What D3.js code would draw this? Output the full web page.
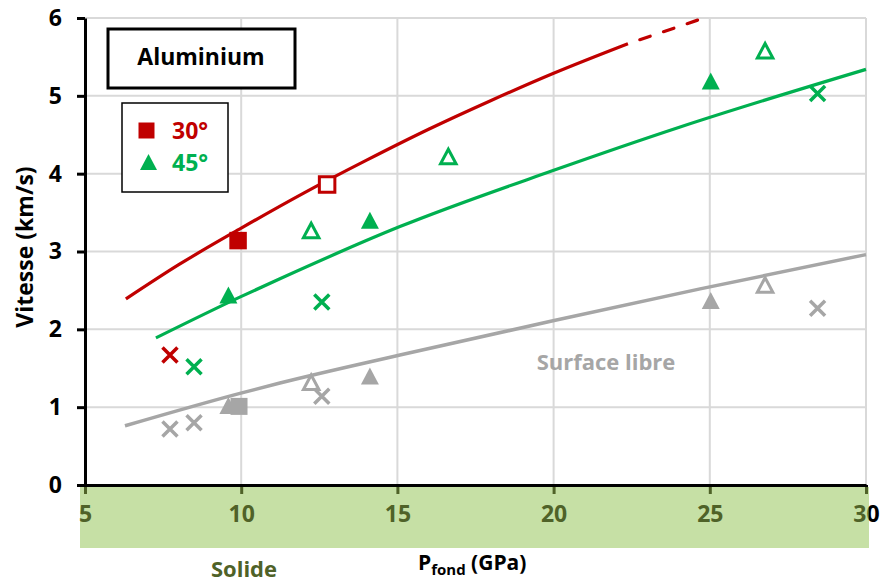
<!DOCTYPE html>
<html>
<head>
<meta charset="utf-8">
<script src="https://cdn.jsdelivr.net/npm/d3@7"></script>
<style>
  body { margin: 0; background: #fff; }
  text { font-family: "Open Sans", sans-serif; font-weight: bold; }
</style>
</head>
<body>
<div id="container"></div>
<script>
/* CONSTANTS AND GLOBALS */
const width = 881;
const height = 583;
const red = "#c00000", green = "#00b050", gray = "#a6a6a6";
const olive = "#4f6228", bandFill = "#c6e0a5";

/* DATA */
const xTicks = [5, 10, 15, 20, 25, 30];
const yTicks = [0, 1, 2, 3, 4, 5, 6];

// fitted curves
const redCurveP = [6.31, 8, 10, 12, 14, 16, 18, 20, 22.38];
const redCurveV = [2.39, 2.83, 3.3, 3.75, 4.17, 4.57, 4.94, 5.29, 5.67];
const redDashP = [22.38, 24.81];
const redDashV = [5.67, 6.0];
const greenCurveP = [7.27, 9.99, 11.24, 15.08, 19.98, 24.05, 30];
const greenCurveV = [1.89, 2.42, 2.65, 3.32, 4.04, 4.60, 5.34];
const grayCurveP = [6.28, 9.99, 11.24, 15.08, 19.98, 24.69, 30];
const grayCurveV = [0.76, 1.18, 1.31, 1.67, 2.11, 2.52, 2.96];

// markers: [P, V]
const red30Full = [[9.90, 3.14]];
const red30Open = [[12.75, 3.86]];
const red30Cross = [[7.72, 1.67]];
const green45Full = [[9.59, 2.44], [14.12, 3.40], [25.03, 5.19]];
const green45Open = [[12.24, 3.27], [16.63, 4.22], [26.77, 5.58]];
const green45Cross = [[8.49, 1.52], [12.58, 2.35], [28.45, 5.03]];
const grayTriFull = [[9.59, 1.02], [14.12, 1.40], [25.03, 2.37]];
const graySqFull = [[9.93, 1.01]];
const grayTriOpen = [[12.24, 1.32], [26.77, 2.57]];
const grayCross = [[7.72, 0.72], [8.49, 0.80], [12.58, 1.14], [28.45, 2.27]];

/* SCALES */
const xScale = d3.scaleLinear().domain([5, 30]).range([85, 866]);
const yScale = d3.scaleLinear().domain([0, 6]).range([485, 18]);

const svg = d3.select("#container")
  .append("svg")
  .attr("width", width)
  .attr("height", height);

// band geometry (green "Solide" strip)
const band = { x: 80, y: 487, w: 789, h: 61 };
svg.append("defs").append("clipPath").attr("id", "bandClip")
  .append("rect")
  .attr("x", band.x).attr("y", band.y)
  .attr("width", band.w).attr("height", band.h);

// grid
svg.append("g").selectAll("line")
  .data(yTicks.filter(d => d > 0))
  .join("line")
  .attr("x1", xScale(5)).attr("x2", xScale(30))
  .attr("y1", d => yScale(d)).attr("y2", d => yScale(d))
  .attr("stroke", "#d9d9d9").attr("stroke-width", 2);
svg.append("g").selectAll("line")
  .data(xTicks.filter(d => d > 5))
  .join("line")
  .attr("x1", d => xScale(d)).attr("x2", d => xScale(d))
  .attr("y1", yScale(0)).attr("y2", yScale(6))
  .attr("stroke", "#d9d9d9").attr("stroke-width", 2);

// curves
const line = d3.line()
  .x(d => xScale(d[0]))
  .y(d => yScale(d[1]))
  .curve(d3.curveMonotoneX);
const zip = (a, b) => a.map((v, i) => [v, b[i]]);

svg.append("path").datum(zip(grayCurveP, grayCurveV))
  .attr("d", line).attr("fill", "none")
  .attr("stroke", gray).attr("stroke-width", 3.5);
svg.append("path").datum(zip(greenCurveP, greenCurveV))
  .attr("d", line).attr("fill", "none")
  .attr("stroke", green).attr("stroke-width", 3.2);
svg.append("path").datum(zip(redCurveP, redCurveV))
  .attr("d", line).attr("fill", "none")
  .attr("stroke", red).attr("stroke-width", 3.2);
svg.append("path").datum(zip(redDashP, redDashV))
  .attr("d", line).attr("fill", "none")
  .attr("stroke", red).attr("stroke-width", 3.2)
  .attr("stroke-linecap", "round")
  .attr("stroke-dasharray", "11,14")
  .attr("stroke-dashoffset", -12.5);

// marker shapes
const triPath = (w, h) => `M0,${-h / 2}L${w / 2},${h / 2}L${-w / 2},${h / 2}Z`;
const sqPath = s => `M${-s / 2},${-s / 2}h${s}v${s}h${-s}Z`;
const crossPath = s => `M${-s},${-s}L${s},${s}M${-s},${s}L${s},${-s}`;

function markers(data, d, fill, stroke, sw) {
  svg.append("g").selectAll("path")
    .data(data)
    .join("path")
    .attr("transform", p => `translate(${xScale(p[0])},${yScale(p[1])})`)
    .attr("d", d)
    .attr("fill", fill)
    .attr("stroke", stroke)
    .attr("stroke-width", sw);
}

markers(grayTriFull, triPath(18, 17), gray, "none", 0);
markers(graySqFull, sqPath(17), gray, "none", 0);
markers(grayTriOpen, triPath(15.5, 14.5), "#fff", gray, 3);
markers(grayCross, crossPath(7.5), "none", gray, 3.5);

markers(green45Full, triPath(18, 17), green, "none", 0);
markers(green45Open, triPath(15.5, 14.5), "#fff", green, 3);
markers(green45Cross, crossPath(7.5), "none", green, 3.5);

markers(red30Full, sqPath(17.5), red, "none", 0);
markers(red30Open, sqPath(15.5), "#fff", red, 3);
markers(red30Cross, crossPath(7.5), "none", red, 3.5);

// Y axis
const yAxis = svg.append("g")
  .attr("transform", `translate(${xScale(5)},0)`)
  .call(d3.axisLeft(yScale).tickValues(yTicks).tickFormat(d3.format("d"))
    .tickSize(8).tickSizeOuter(0).tickPadding(15));
yAxis.select(".domain").attr("stroke", "#000").attr("stroke-width", 3);
yAxis.selectAll(".tick line").attr("stroke", "#000").attr("stroke-width", 3);
yAxis.selectAll(".tick text")
  .attr("font-size", 23).attr("font-family", "Open Sans").attr("font-weight", "bold")
  .attr("fill", "#000");

// X axis: drawn black, then the band, then again in olive clipped to the band
function drawXAxis(parent, color) {
  const g = parent.append("g")
    .attr("transform", `translate(0,${yScale(0)})`)
    .call(d3.axisBottom(xScale).tickValues(xTicks).tickSize(9).tickSizeOuter(0).tickPadding(12));
  g.select(".domain").attr("stroke", "#000").attr("stroke-width", 3);
  g.selectAll(".tick line").attr("stroke", color).attr("stroke-width", 3);
  g.selectAll(".tick text")
    .attr("font-size", 23).attr("font-family", "Open Sans").attr("font-weight", "bold")
    .attr("fill", color);
}
drawXAxis(svg, "#000");
svg.append("rect")
  .attr("x", band.x).attr("y", band.y)
  .attr("width", band.w).attr("height", band.h)
  .attr("fill", bandFill);
drawXAxis(svg.append("g").attr("clip-path", "url(#bandClip)"), olive);

svg.append("text")
  .attr("x", 244).attr("y", 577)
  .attr("text-anchor", "middle")
  .attr("font-size", 22).attr("fill", olive)
  .text("Solide");

// axis labels
const xl = svg.append("text")
  .attr("x", 418).attr("y", 570)
  .attr("font-size", 21).attr("fill", "#000");
xl.append("tspan").text("P");
xl.append("tspan").attr("dy", 5).attr("font-size", 15).text("fond");
xl.append("tspan").attr("dy", -5).text(" (GPa)");

svg.append("text")
  .attr("transform", "translate(33,247) rotate(-90)")
  .attr("text-anchor", "middle")
  .attr("font-size", 23).attr("fill", "#000")
  .text("Vitesse (km/s)");

svg.append("text")
  .attr("x", 606).attr("y", 370)
  .attr("text-anchor", "middle")
  .attr("font-size", 22).attr("fill", gray)
  .text("Surface libre");

// title box
svg.append("rect")
  .attr("x", 108).attr("y", 29).attr("width", 187).attr("height", 59)
  .attr("fill", "#fff").attr("stroke", "#000").attr("stroke-width", 3);
svg.append("text")
  .attr("x", 201).attr("y", 65)
  .attr("text-anchor", "middle")
  .attr("font-size", 23).attr("fill", "#000")
  .text("Aluminium");

// legend
svg.append("rect")
  .attr("x", 122).attr("y", 103).attr("width", 106).attr("height", 89)
  .attr("fill", "#fff").attr("stroke", "#000").attr("stroke-width", 1.5);
svg.append("path")
  .attr("transform", "translate(146.5,130.5)")
  .attr("d", sqPath(16)).attr("fill", red);
svg.append("path")
  .attr("transform", "translate(148.5,162)")
  .attr("d", triPath(17, 16)).attr("fill", green);
svg.append("text")
  .attr("x", 172).attr("y", 139)
  .attr("font-size", 23).attr("fill", red)
  .text("30°");
svg.append("text")
  .attr("x", 172).attr("y", 171)
  .attr("font-size", 23).attr("fill", green)
  .text("45°");
</script>
</body>
</html>
